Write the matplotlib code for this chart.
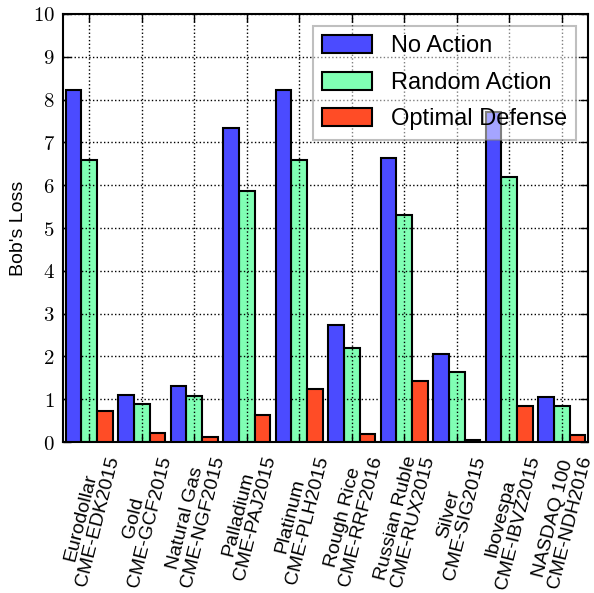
import matplotlib
matplotlib.use("Agg")
import matplotlib.pyplot as plt
import numpy as np

categories = ["Eurodollar\nCME-EDK2015", "Gold\nCME-GCF2015", "Natural Gas\nCME-NGF2015",
              "Palladium\nCME-PAJ2015", "Platinum\nCME-PLH2015", "Rough Rice\nCME-RRF2016",
              "Russian Ruble\nCME-RUX2015", "Silver\nCME-SIG2015", "Ibovespa\nCME-IBVZ2015",
              "NASDAQ 100\nCME-NDH2016"]
no_action = [8.22, 1.11, 1.32, 7.34, 8.22, 2.74, 6.63, 2.06, 7.72, 1.05]
random_action = [6.58, 0.88, 1.07, 5.87, 6.58, 2.19, 5.30, 1.64, 6.19, 0.85]
optimal_defense = [0.72, 0.20, 0.12, 0.64, 1.23, 0.19, 1.42, 0.05, 0.83, 0.16]
series_names = ["No Action", "Random Action", "Optimal Defense"]
yticks = list(range(0, 11))

plt.rcParams['mathtext.fontset'] = 'cm'
plt.rcParams['font.family'] = ['Liberation Sans', 'DejaVu Sans']

fig = plt.figure(figsize=(5.94, 5.93), dpi=100)
ax = fig.add_axes([0.106, 0.2546, 0.884, 0.7218])

x = np.arange(len(categories))
w = 0.3
colors = ["#4b4bff", "#80ffb4", "#ff4c26"]
data = [no_action, random_action, optimal_defense]
zs = [3, 2, 3]
for i, (vals, name, c, z) in enumerate(zip(data, series_names, colors, zs)):
    ax.bar(x + (i - 1) * w, vals, w, color=c, edgecolor='black', linewidth=1.5,
           label=name, zorder=z)

ax.set_axisbelow(False)
ax.grid(True, linestyle=':', color='black', linewidth=1.0, zorder=2.5)
ax.set_xlim(-0.5, len(categories) - 0.5)
ax.set_ylim(0, 10)
ax.set_yticks(yticks)
ax.set_yticklabels([r"$%d$" % v for v in yticks], fontsize=15)
ax.set_xticks(x)
ax.set_xticklabels(categories, rotation=76, ha='center', va='top', fontsize=14,
                   multialignment='center', linespacing=1.05)
ax.tick_params(direction='in', length=6, width=1, top=True, right=True, pad=6)
ax.tick_params(axis='x', pad=6)
for s in ax.spines.values():
    s.set_linewidth(1.5)
ax.set_ylabel("Bob's Loss", fontsize=14)

leg = ax.legend(loc='upper right', fontsize=17, framealpha=0.5, fancybox=False,
                edgecolor='gray', handlelength=2.1, handleheight=0.8,
                borderaxespad=0.5, labelspacing=0.6)
leg.get_frame().set_linewidth(1.5)
leg.set_zorder(5)

fig.savefig("out.png", dpi=100)
